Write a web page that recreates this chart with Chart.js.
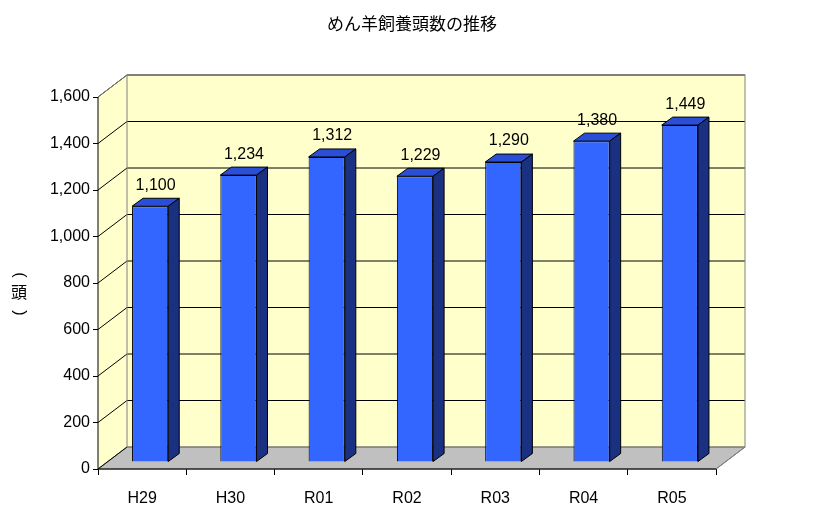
<!DOCTYPE html>
<html>
<head>
<meta charset="utf-8">
<script src="https://cdn.jsdelivr.net/npm/chart.js@4"></script>
<style>
  body { margin: 0; background: #fff; }
  #wrap { width: 825px; height: 529px; }
</style>
</head>
<body>
<div id="wrap"><canvas id="chart" width="825" height="529"></canvas></div>
<script>
const years = ['H29', 'H30', 'R01', 'R02', 'R03', 'R04', 'R05'];
const heads = [1100, 1234, 1312, 1229, 1290, 1380, 1449];
const yTicks = [0, 200, 400, 600, 800, 1000, 1200, 1400, 1600];

const FONT = '"Liberation Sans", "Noto Sans CJK JP", sans-serif';
const DX = 29, DY = -22;      // depth of the box
const BX = 8, BY = -7;        // bar front face offset
const CX = 11, CY = -8;       // bar depth

const fmt = v => v.toLocaleString('en-US');

const box3d = {
  id: 'box3d',
  beforeDatasetsDraw(chart) {
    const { ctx, chartArea: a, scales: { y } } = chart;
    ctx.save();
    // left wall
    ctx.fillStyle = '#ffffcc';
    ctx.beginPath();
    ctx.moveTo(a.left, a.bottom); ctx.lineTo(a.left, a.top);
    ctx.lineTo(a.left + DX, a.top + DY); ctx.lineTo(a.left + DX, a.bottom + DY);
    ctx.closePath(); ctx.fill();
    // back wall
    ctx.fillRect(a.left + DX, a.top + DY, a.right - a.left, a.bottom - a.top);
    // floor
    ctx.fillStyle = '#c0c0c0';
    ctx.beginPath();
    ctx.moveTo(a.left, a.bottom); ctx.lineTo(a.right, a.bottom);
    ctx.lineTo(a.right + DX, a.bottom + DY); ctx.lineTo(a.left + DX, a.bottom + DY);
    ctx.closePath(); ctx.fill();
    ctx.strokeStyle = '#666'; ctx.lineWidth = 1;
    ctx.stroke();
    // grid lines
    ctx.strokeStyle = '#000';
    yTicks.forEach(t => {
      const py = y.getPixelForValue(t);
      ctx.beginPath();
      ctx.moveTo(a.left, py); ctx.lineTo(a.left + DX, py + DY);
      if (t > 0) ctx.lineTo(a.right + DX, py + DY);
      ctx.stroke();
    });
    // wall borders
    ctx.strokeStyle = '#808080';
    ctx.strokeRect(a.left + DX, a.top + DY, a.right - a.left, a.bottom - a.top);
    ctx.beginPath();
    ctx.moveTo(a.left, a.top); ctx.lineTo(a.left + DX, a.top + DY);
    ctx.moveTo(a.right, a.bottom); ctx.lineTo(a.right + DX, a.bottom + DY);
    ctx.stroke();
    // front axis lines
    ctx.strokeStyle = '#000';
    ctx.beginPath();
    ctx.moveTo(a.left, a.top); ctx.lineTo(a.left, a.bottom); ctx.lineTo(a.right, a.bottom);
    ctx.stroke();
    ctx.restore();
    ctx.save();
    ctx.translate(BX, BY);
  },
  afterDatasetsDraw(chart) {
    const { ctx } = chart;
    ctx.restore();
    ctx.save();
    ctx.translate(BX, BY);
    ctx.strokeStyle = '#000'; ctx.lineWidth = 1;
    chart.getDatasetMeta(0).data.forEach((bar, i) => {
      const l = bar.x - bar.width / 2, r = bar.x + bar.width / 2;
      const t = bar.y, b = bar.base;
      // top
      ctx.fillStyle = '#2a4fd6';
      ctx.beginPath();
      ctx.moveTo(l, t); ctx.lineTo(r, t); ctx.lineTo(r + CX, t + CY); ctx.lineTo(l + CX, t + CY);
      ctx.closePath(); ctx.fill(); ctx.stroke();
      // side
      ctx.fillStyle = '#1a3080';
      ctx.beginPath();
      ctx.moveTo(r, t); ctx.lineTo(r + CX, t + CY); ctx.lineTo(r + CX, b + CY); ctx.lineTo(r, b);
      ctx.closePath(); ctx.fill(); ctx.stroke();
      // value label
      ctx.fillStyle = '#000';
      ctx.font = '16px ' + FONT;
      ctx.textAlign = 'center'; ctx.textBaseline = 'bottom';
      ctx.fillText(fmt(heads[i]), bar.x + CX / 2, t + CY - 5);
    });
    ctx.restore();
    // title
    ctx.save();
    ctx.fillStyle = '#000';
    ctx.font = '17px ' + FONT;
    ctx.textAlign = 'center'; ctx.textBaseline = 'middle';
    ctx.fillText('めん羊飼養頭数の推移', 412, 25);
    // vertical axis title （頭）
    ctx.font = '16px ' + FONT;
    ctx.translate(19, 294);
    ctx.fillText('頭', 0, 0);
    ctx.save(); ctx.translate(0, -19); ctx.rotate(Math.PI / 2); ctx.fillText('(', 0, 0); ctx.restore();
    ctx.save(); ctx.translate(0, 19); ctx.rotate(Math.PI / 2); ctx.fillText(')', 0, 0); ctx.restore();
    ctx.restore();
  }
};

new Chart(document.getElementById('chart'), {
  type: 'bar',
  data: {
    labels: years,
    datasets: [{
      data: heads,
      backgroundColor: '#3366ff',
      borderColor: '#000',
      borderWidth: 1,
      categoryPercentage: 1,
      barPercentage: 0.41
    }]
  },
  options: {
    responsive: false,
    animation: false,
    layout: { padding: { top: 97, right: 109, left: 0, bottom: 0 } },
    plugins: { legend: { display: false }, tooltip: { enabled: false } },
    scales: {
      x: {
        offset: true,
        grid: { display: true, drawOnChartArea: false, offset: true, tickLength: 6, color: '#000' },
        border: { display: false },
        ticks: { color: '#000', font: { size: 16, family: FONT }, padding: 14 },
        afterFit: s => { s.height = 529 - 469; }
      },
      y: {
        min: 0, max: 1600,
        afterBuildTicks: s => { s.ticks = yTicks.map(v => ({ value: v })); },
        grid: { display: true, drawOnChartArea: false, tickLength: 5, color: '#000' },
        border: { display: false },
        ticks: { color: '#000', font: { size: 16, family: FONT }, padding: 3, callback: v => fmt(v) },
        afterFit: s => { s.width = 98; }
      }
    }
  },
  plugins: [box3d]
});
</script>
</body>
</html>
